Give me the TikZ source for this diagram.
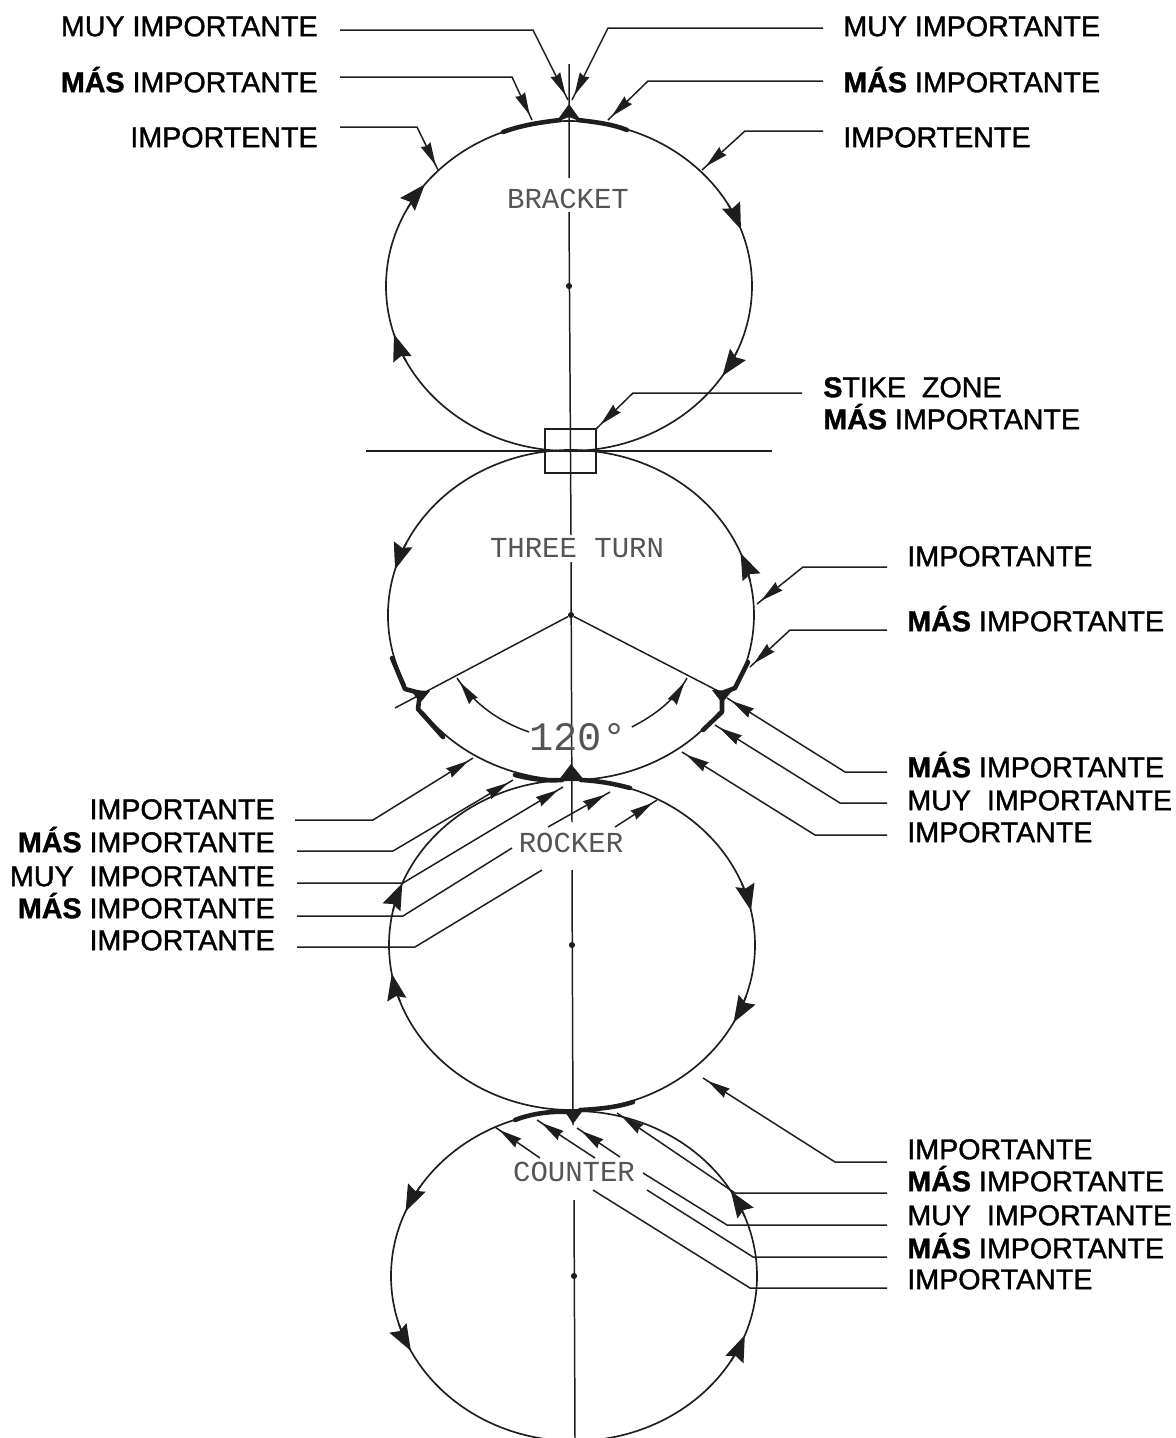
\documentclass[tikz,border=0pt]{standalone}
\usepackage{fontspec}
\usepackage{xcolor}
\usetikzlibrary{arrows.meta,decorations.markings}
\setmainfont{Liberation Sans}
\newfontfamily\lblfont[FakeBold=1.3]{Liberation Sans}
\newfontfamily\cadfont{Liberation Mono}
\definecolor{cadink}{RGB}{30, 30, 30}
\definecolor{cadtext}{RGB}{85, 85, 85}
\tikzset{
    lbl/.style={font=\lblfont\fontsize{16.3}{18}\selectfont, text height=11.6pt, text depth=0pt, inner sep=0pt},
    figname/.style={font=\cadfont\fontsize{16.5}{18}\selectfont, text=cadtext, inner sep=0pt},
    ring/.style={cadink, line width=0.95pt},
    ringpart/.style={cadink, line width=0.95pt, x radius=183, y radius=165},
    flowtip/.style={cadink, line width=0.95pt, x radius=183, y radius=165, -{Stealth[length=15pt, width=11pt, inset=2pt]}},
    heavy/.style={cadink, line width=2.6pt, line cap=round, line join=round},
    wire/.style={cadink, line width=0.85pt},
    leader/.style={wire, postaction={decorate}, decoration={markings, mark=at position -3pt with {\arrow{Stealth[length=13pt, width=6pt, inset=1pt]}}}},
    axisline/.style={cadink, line width=0.85pt},
    centerdot/.style={circle, fill=cadink, inner sep=0pt, minimum size=3.5pt}
}
\begin{document}
\begin{tikzpicture}[x=0.02cm, y=-0.02cm]
    \useasboundingbox (0, 0) rectangle (1176, 1438);

    % Centres of the four figures
    \coordinate (bracketC) at (569, 286);
    \coordinate (threeC) at (571, 615);
    \coordinate (rockerC) at (572, 945);
    \coordinate (counterC) at (574, 1276);

    % Centre line and strike zone
    \draw[axisline] (569, 64) -- (569, 178) (569, 212) -- (571, 535) (571, 562) -- (572, 822) (572, 870) -- (573, 1125) (574, 1200) -- (575, 1438);
    \draw[axisline] (366, 451) -- (772, 451);
    \node[draw=cadink, line width=0.85pt, minimum width=1.02cm, minimum height=0.88cm, inner sep=0pt] (zonebox) at (570.5, 451) {};

    % Rings
    \draw[ring] (bracketC) ellipse [x radius=183, y radius=165];
    \draw[ring] (rockerC) ellipse [x radius=183, y radius=165];
    \draw[ring] (counterC) ellipse [x radius=183, y radius=165];
    \draw[ringpart] (threeC) ++(36:183 and 165) arc[start angle=36, end angle=144];
    \draw[ringpart] (threeC) ++(155:183 and 165) arc[start angle=155, end angle=385];
    \node[centerdot] (bracketdot) at (bracketC) {};
    \node[centerdot] (threedot) at (threeC) {};
    \node[centerdot] (rockerdot) at (rockerC) {};
    \node[centerdot] (counterdot) at (counterC) {};

    % Travel direction on each ring
    \draw[flowtip] (bracketC) ++(208:183 and 165) arc[start angle=208, end angle=218];
    \draw[flowtip] (bracketC) ++(330:183 and 165) arc[start angle=330, end angle=340];
    \draw[flowtip] (bracketC) ++(153:183 and 165) arc[start angle=153, end angle=163];
    \draw[flowtip] (bracketC) ++(23:183 and 165) arc[start angle=23, end angle=33];
    \draw[flowtip] (threeC) ++(206:183 and 165) arc[start angle=206, end angle=196];
    \draw[flowtip] (threeC) ++(348:183 and 165) arc[start angle=348, end angle=338];
    \draw[flowtip] (rockerC) ++(338:183 and 165) arc[start angle=338, end angle=348];
    \draw[flowtip] (rockerC) ++(18:183 and 165) arc[start angle=18, end angle=28];
    \draw[flowtip] (rockerC) ++(160:183 and 165) arc[start angle=160, end angle=170];
    \draw[flowtip] (rockerC) ++(192:183 and 165) arc[start angle=192, end angle=202];
    \draw[flowtip] (counterC) ++(213:183 and 165) arc[start angle=213, end angle=203];
    \draw[flowtip] (counterC) ++(163:183 and 165) arc[start angle=163, end angle=153];
    \draw[flowtip] (counterC) ++(339:183 and 165) arc[start angle=339, end angle=329];
    \draw[flowtip] (counterC) ++(31:183 and 165) arc[start angle=31, end angle=21];

    % Heavy parts and cusps
    \draw[heavy] (503, 132) .. controls (525, 124) and (545, 122) .. (560, 120);
    \draw[heavy] (578, 120) .. controls (595, 122) and (612, 124) .. (627, 130);
    \fill[cadink] (556, 122) -- (569, 104) -- (582, 122) -- (569, 117) -- cycle;
    \draw[heavy] (392, 658) -- (405, 689) -- (420, 693) -- (418, 709) -- (443, 737);
    \draw[heavy] (748, 662) -- (735, 688) -- (722, 693) -- (722, 712) -- (703, 730);
    \fill[cadink] (411, 690) -- (430, 691) -- (420, 703) -- cycle;
    \fill[cadink] (712, 690) -- (732, 691) -- (722, 703) -- cycle;
    \draw[heavy] (515, 775) .. controls (530, 779) and (545, 781) .. (562, 780);
    \draw[heavy] (581, 780) .. controls (600, 781) and (615, 784) .. (630, 788);
    \fill[cadink] (558, 781) -- (571, 764) -- (585, 781) -- cycle;
    \draw[heavy] (515, 1120) .. controls (530, 1114) and (550, 1111) .. (567, 1112);
    \draw[heavy] (580, 1110) .. controls (600, 1109) and (618, 1107) .. (633, 1102);
    \fill[cadink] (564, 1110) -- (584, 1109) -- (573, 1124) -- cycle;

    % Figure names
    \node[figname] (bracketname) at (568, 199) {BRACKET};
    \node[figname] (threename) at (577, 548) {THREE TURN};
    \node[figname] (rockername) at (571, 843) {ROCKER};
    \node[figname] (countername) at (574, 1172) {COUNTER};

    % Angle between the spokes
    \node[font=\cadfont\fontsize{23}{24}\selectfont, text=cadtext, inner sep=0pt] (anglename) at (578, 737) {120°};
    \coordinate (spokeL) at (395, 708);
    \coordinate (spokeR) at (722, 693);
    \coordinate (angleL) at (457, 678);
    \coordinate (angleR) at (687, 678);
    \draw[wire] (threedot) -- (spokeL);
    \draw[wire] (threedot) -- (spokeR);
    \draw[leader] (anglename.west) ++(0, -5) .. controls (500, 722) and (475, 705) .. (angleL);
    \draw[leader] (anglename.east) ++(5, -10) .. controls (655, 715) and (675, 700) .. (angleR);

    % Bracket, left side
    \node[lbl, anchor=east] (muyTL) at (318, 26) {MUY IMPORTANTE};
    \node[lbl, anchor=east] (masTL) at (318, 82) {\textbf{MÁS} IMPORTANTE};
    \node[lbl, anchor=east] (impTL) at (318, 137) {IMPORTENTE};
    \coordinate (muyTLtip) at (568, 100);
    \coordinate (masTLtip) at (532, 120);
    \coordinate (impTLtip) at (438, 170);
    \draw[leader] (muyTL.east) ++(22, 4) -- ++(193, 0) -- (muyTLtip);
    \draw[leader] (masTL.east) ++(22, -5) -- ++(172, 0) -- (masTLtip);
    \draw[leader] (impTL.east) ++(22, -10) -- ++(77, 0) -- (impTLtip);

    % Bracket, right side
    \node[lbl, anchor=west] (muyTR) at (843, 26) {MUY IMPORTANTE};
    \node[lbl, anchor=west] (masTR) at (843, 82) {\textbf{MÁS} IMPORTANTE};
    \node[lbl, anchor=west] (impTR) at (843, 137) {IMPORTENTE};
    \coordinate (muyTRtip) at (572, 100);
    \coordinate (masTRtip) at (608, 120);
    \coordinate (impTRtip) at (702, 170);
    \draw[leader] (muyTR.west) ++(-20, 2) -- ++(-215, 0) -- (muyTRtip);
    \draw[leader] (masTR.west) ++(-20, -1) -- ++(-175, 0) -- (masTRtip);
    \draw[leader] (impTR.west) ++(-20, -6) -- ++(-78, 0) -- (impTRtip);

    % Strike zone
    \node[lbl, anchor=west] (stike) at (823, 387) {\textbf{S}TIKE\ \ ZONE};
    \node[lbl, anchor=west] (stikemas) at (823, 419) {\textbf{MÁS} IMPORTANTE};
    \draw[leader] (stike.west) ++(-21, 6) -- ++(-169, 0) -- (zonebox.north east);

    % Three turn, right side
    \node[lbl, anchor=west] (impA) at (907, 556) {IMPORTANTE};
    \node[lbl, anchor=west] (masA) at (907, 621) {\textbf{MÁS} IMPORTANTE};
    \node[lbl, anchor=west] (masB) at (907, 767) {\textbf{MÁS} IMPORTANTE};
    \node[lbl, anchor=west] (muyB) at (907, 800) {MUY\ \ IMPORTANTE};
    \node[lbl, anchor=west] (impB) at (907, 832) {IMPORTANTE};
    \coordinate (impAtip) at (757, 604);
    \coordinate (masAtip) at (750, 667);
    \coordinate (masBtip) at (727, 698);
    \coordinate (muyBtip) at (715, 725);
    \coordinate (impBtip) at (682, 752);
    \draw[leader] (impA.west) ++(-20, 11) -- ++(-84, 0) -- (impAtip);
    \draw[leader] (masA.west) ++(-20, 9) -- ++(-97, 0) -- (masAtip);
    \draw[leader] (masB.west) ++(-20, 5) -- ++(-42, 0) -- (masBtip);
    \draw[leader] (muyB.west) ++(-20, 3) -- ++(-47, 0) -- (muyBtip);
    \draw[leader] (impB.west) ++(-20, 3) -- ++(-72, 0) -- (impBtip);

    % Rocker, left side
    \node[lbl, anchor=east] (impC) at (275, 809) {IMPORTANTE};
    \node[lbl, anchor=east] (masC) at (275, 842) {\textbf{MÁS} IMPORTANTE};
    \node[lbl, anchor=east] (muyD) at (275, 876) {MUY\ \ IMPORTANTE};
    \node[lbl, anchor=east] (masD) at (275, 908) {\textbf{MÁS} IMPORTANTE};
    \node[lbl, anchor=east] (impD) at (275, 940) {IMPORTANTE};
    \coordinate (impCtip) at (473, 758);
    \coordinate (masCtip) at (513, 780);
    \coordinate (muyDtip) at (563, 787);
    \coordinate (masDbreak) at (548, 827);
    \coordinate (masDtip) at (610, 792);
    \coordinate (impDbreak) at (615, 827);
    \coordinate (impDtip) at (657, 800);
    \draw[leader] (impC.east) ++(20, 11) -- ++(78, 0) -- (impCtip);
    \draw[leader] (masC.east) ++(22, 9) -- ++(96, 0) -- (masCtip);
    \draw[leader] (muyD.east) ++(22, 7) -- ++(106, 0) -- (muyDtip);
    \draw[wire] (masD.east) ++(22, 8) -- ++(106, 0) -- (512, 848);
    \draw[leader] (masDbreak) -- (masDtip);
    \draw[wire] (impD.east) ++(22, 7) -- ++(118, 0) -- (542, 870);
    \draw[leader] (impDbreak) -- (impDtip);

    % Counter, right side
    \node[lbl, anchor=west] (impE) at (907, 1149) {IMPORTANTE};
    \node[lbl, anchor=west] (masE) at (907, 1181) {\textbf{MÁS} IMPORTANTE};
    \node[lbl, anchor=west] (muyF) at (907, 1215) {MUY\ \ IMPORTANTE};
    \node[lbl, anchor=west] (masF) at (907, 1248) {\textbf{MÁS} IMPORTANTE};
    \node[lbl, anchor=west] (impF) at (907, 1279) {IMPORTANTE};
    \coordinate (impEtip) at (703, 1078);
    \coordinate (masEtip) at (617, 1113);
    \coordinate (muyFbreak) at (620, 1157);
    \coordinate (muyFtip) at (577, 1128);
    \coordinate (masFbreak) at (595, 1158);
    \coordinate (masFtip) at (537, 1120);
    \coordinate (impFbreak) at (540, 1158);
    \coordinate (impFtip) at (495, 1127);
    \draw[leader] (impE.west) ++(-20, 13) -- ++(-52, 0) -- (impEtip);
    \draw[leader] (masE.west) ++(-20, 12) -- ++(-152, 0) -- (masEtip);
    \draw[wire] (muyF.west) ++(-20, 10) -- ++(-160, 0) -- (643, 1173);
    \draw[leader] (muyFbreak) -- (muyFtip);
    \draw[wire] (masF.west) ++(-20, 9) -- ++(-134, 0) -- (647, 1190);
    \draw[leader] (masFbreak) -- (masFtip);
    \draw[wire] (impF.west) ++(-20, 9) -- ++(-137, 0) -- (593, 1190);
    \draw[leader] (impFbreak) -- (impFtip);
\end{tikzpicture}
\end{document}
